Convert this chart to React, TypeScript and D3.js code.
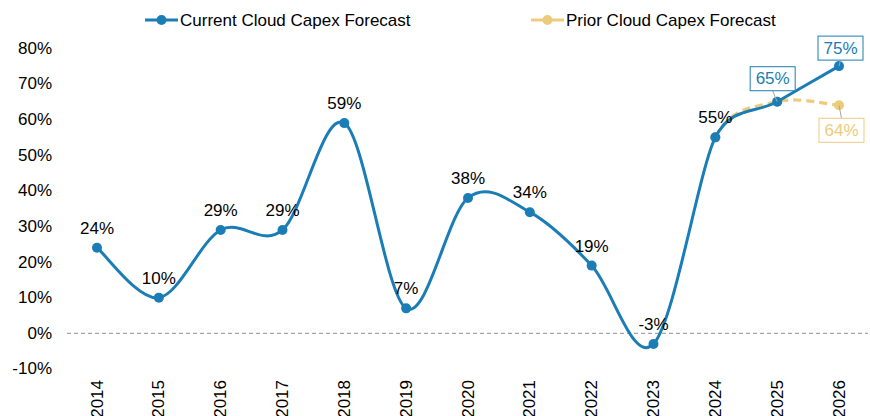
import React from "react";
import * as d3 from "d3";

const years = ["2014","2015","2016","2017","2018","2019","2020","2021","2022","2023","2024","2025","2026"];
const currentValues = [24, 10, 29, 29, 59, 7, 38, 34, 19, -3, 55, 65, 75];
// prior forecast shares history with the current one; it is visible from 2024 on
const priorYears = ["2023","2024","2025","2026"];
const priorValues = [-3, 55, 65, 64];
const priorVisibleFrom = "2024";
const yTicks = [-10, 0, 10, 20, 30, 40, 50, 60, 70, 80];
const seriesNames = ["Current Cloud Capex Forecast", "Prior Cloud Capex Forecast"];

const BLUE = "#1B7DB5";
const GOLD = "#EDCB7D";
const FONT = "'Liberation Sans', Arial, sans-serif";
const FS = 17;

// Excel-style smoothing: Bezier with tangent (P[i+1]-P[i-1])/6, clamped to half the adjacent segment lengths
function smoothPath(pts: [number, number][], start = 0): string {
  const p = d3.path();
  const n = pts.length;
  if (n === 0) return "";
  const dist = (a: [number, number], b: [number, number]) => Math.hypot(b[0] - a[0], b[1] - a[1]);
  const tang = pts.map((pt, i) => {
    const prev = pts[Math.max(0, i - 1)];
    const next = pts[Math.min(n - 1, i + 1)];
    const tx = next[0] - prev[0], ty = next[1] - prev[1];
    const tl = Math.hypot(tx, ty) || 1;
    let L = tl / 6;
    if (i > 0) L = Math.min(L, dist(pts[i - 1], pt) / 2);
    if (i < n - 1) L = Math.min(L, dist(pt, pts[i + 1]) / 2);
    return [tx / tl * L, ty / tl * L];
  });
  p.moveTo(pts[start][0], pts[start][1]);
  for (let i = start; i < n - 1; i++) {
    const a = pts[i], b = pts[i + 1];
    p.bezierCurveTo(a[0] + tang[i][0], a[1] + tang[i][1], b[0] - tang[i + 1][0], b[1] - tang[i + 1][1], b[0], b[1]);
  }
  return p.toString();
}

export default function App() {
  const W = 870, H = 416;
  const x = d3.scalePoint<string>().domain(years).range([97, 839]);
  const y = d3.scaleLinear().domain([-10, 80]).range([368.9, 48.3]);
  const cur: [string, number][] = years.map((yr, i) => [yr, currentValues[i]]);
  const pri: [string, number][] = priorYears.map((yr, i) => [yr, priorValues[i]]);
  const priStart = priorYears.indexOf(priorVisibleFrom);
  const curPath = smoothPath(cur.map(d => [x(d[0])!, y(d[1])]));
  const priPath = smoothPath(pri.map(d => [x(d[0])!, y(d[1])]), priStart);

  const boxW = 45, boxH = 24;
  const boxed = [
    { yr: "2025", v: 65, color: BLUE, dx: -27, dy: -35 },
    { yr: "2026", v: 75, color: BLUE, dx: -21, dy: -30 },
  ];
  const priorBoxed = { yr: "2026", v: 64, color: GOLD, dx: -20, dy: 13 };

  return (
    <svg width={W} height={H} style={{ position: "absolute", left: 0, top: 0, fontFamily: FONT }}>
      <rect width={W} height={H} fill="#fff" />
      <line x1={67} x2={868} y1={y(0)} y2={y(0)} stroke="#A6A6A6" strokeWidth={1.3} strokeDasharray="4,3" />
      {yTicks.map(t => (
        <text key={t} x={52} y={y(t)} textAnchor="end" dominantBaseline="central" fontSize={FS} fill="#000">{t}%</text>
      ))}
      {years.map(yr => (
        <text key={yr} transform={`translate(${x(yr)},380) rotate(-90)`} textAnchor="end" dominantBaseline="central" fontSize={FS} fill="#000">{yr}</text>
      ))}
      <path d={priPath} fill="none" stroke={GOLD} strokeWidth={3.2} strokeDasharray="8,5" />
      {pri.slice(priStart).map(d => (
        <circle key={"p" + d[0]} cx={x(d[0])} cy={y(d[1])} r={5} fill={GOLD} />
      ))}
      <path d={curPath} fill="none" stroke={BLUE} strokeWidth={3} />
      {cur.map(d => (
        <circle key={"c" + d[0]} cx={x(d[0])} cy={y(d[1])} r={5} fill={BLUE} />
      ))}
      {cur.filter(d => d[0] !== "2025" && d[0] !== "2026").map(d => (
        <text key={"l" + d[0]} x={x(d[0])!} y={y(d[1]) - 14} textAnchor="middle" fontSize={FS} fill="#000">{d[1]}%</text>
      ))}
      {boxed.map(b => {
        const px = x(b.yr)!, py = y(b.v);
        const bx = px + b.dx, by = py + b.dy;
        return (
          <g key={"b" + b.yr}>
            <line x1={px} y1={py} x2={bx + boxW / 2} y2={by + boxH} stroke="#A6A6A6" strokeWidth={1} />
            <rect x={bx} y={by} width={boxW} height={boxH} fill="#fff" stroke={b.color} strokeWidth={1} />
            <text x={bx + boxW / 2} y={by + boxH / 2} textAnchor="middle" dominantBaseline="central" fontSize={FS} fill={b.color}>{b.v}%</text>
          </g>
        );
      })}
      {(() => {
        const b = priorBoxed;
        const px = x(b.yr)!, py = y(b.v);
        const bx = px + b.dx, by = py + b.dy;
        return (
          <g>
            <line x1={px} y1={py} x2={bx + boxW / 2} y2={by} stroke="#A6A6A6" strokeWidth={1} />
            <rect x={bx} y={by} width={boxW} height={boxH} fill="#fff" stroke={b.color} strokeWidth={1} />
            <text x={bx + boxW / 2} y={by + boxH / 2} textAnchor="middle" dominantBaseline="central" fontSize={FS} fill={b.color}>{b.v}%</text>
          </g>
        );
      })()}
      {[{ name: seriesNames[0], color: BLUE, x0: 145 }, { name: seriesNames[1], color: GOLD, x0: 531 }].map(l => (
        <g key={l.name}>
          <line x1={l.x0} x2={l.x0 + 33} y1={20} y2={20} stroke={l.color} strokeWidth={3} />
          <circle cx={l.x0 + 16.5} cy={20} r={5} fill={l.color} />
          <text x={l.x0 + 35} y={20} dominantBaseline="central" fontSize={FS} fill="#000">{l.name}</text>
        </g>
      ))}
    </svg>
  );
}
